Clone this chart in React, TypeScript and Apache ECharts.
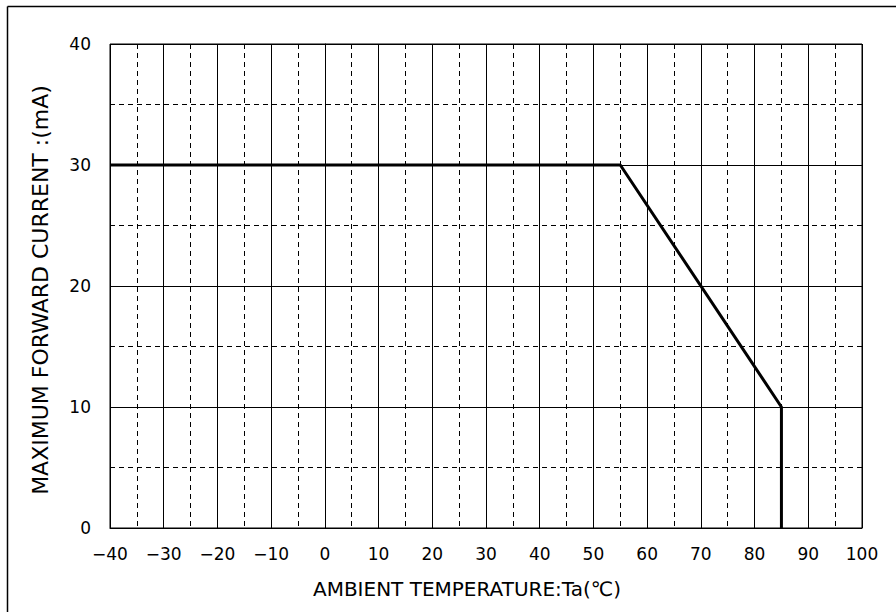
import React, { useEffect, useRef } from "react";
import * as echarts from "echarts";

const temperatures = [-40, 55, 85, 85];
const currents = [30, 30, 10, 0];
const xTicks = { min: -40, max: 100, interval: 10 };
const yTicks = { min: 0, max: 40, interval: 10 };
const xName = "AMBIENT TEMPERATURE:Ta(℃)";
const yName = "MAXIMUM FORWARD CURRENT :(mA)";

export default function App() {
  const ref = useRef<HTMLDivElement>(null);
  useEffect(() => {
    if (!ref.current) return;
    const chart = echarts.init(ref.current, null, { renderer: "svg" });
    const font = "DejaVu Sans, Liberation Sans, sans-serif";
    const solid = { color: "#000", width: 1, type: "solid" as const };
    const dashed = { color: "#000", width: 1, type: [5, 4] as any };
    chart.setOption({
      animation: false,
      backgroundColor: "#fff",
      textStyle: { fontFamily: font },
      grid: {
        left: 110,
        top: 44,
        right: 34,
        bottom: 84,
        show: true,
        borderColor: "#000",
        borderWidth: 1,
      },
      xAxis: {
        type: "value",
        min: xTicks.min,
        max: xTicks.max,
        interval: xTicks.interval,
        name: xName,
        nameLocation: "middle",
        nameGap: 51,
        nameTextStyle: { color: "#000", fontSize: 20, fontFamily: font, padding: [0, 38, 0, 0] },
        axisLine: { show: true, lineStyle: { color: "#000", width: 1 } },
        axisTick: { show: false },
        axisLabel: {
          color: "#000",
          fontSize: 17,
          margin: 17,
          fontFamily: font,
          formatter: (v: number) => String(v).replace("-", "−"),
        },
        splitLine: { show: true, lineStyle: solid },
        minorTick: { show: false, splitNumber: 2 },
        minorSplitLine: { show: true, lineStyle: dashed },
      },
      yAxis: {
        type: "value",
        min: yTicks.min,
        max: yTicks.max,
        interval: yTicks.interval,
        name: yName,
        nameLocation: "middle",
        nameGap: 59,
        nameTextStyle: { color: "#000", fontSize: 22, fontFamily: font, padding: [0, 8, 0, 0] },
        axisLine: { show: true, lineStyle: { color: "#000", width: 1 } },
        axisTick: { show: false },
        axisLabel: { color: "#000", fontSize: 17, margin: 19, fontFamily: font },
        splitLine: { show: true, lineStyle: solid },
        minorTick: { show: false, splitNumber: 2 },
        minorSplitLine: { show: true, lineStyle: dashed },
      },
      series: [
        {
          type: "line",
          data: temperatures.map((t, i) => [t, currents[i]]),
          symbol: "none",
          lineStyle: { color: "#000", width: 3 },
          z: 5,
        },
      ],
      graphic: [
        { type: "line", shape: { x1: 7.5, y1: 6.5, x2: 896, y2: 6.5 }, style: { stroke: "#000", lineWidth: 1.5 } },
        { type: "line", shape: { x1: 7.5, y1: 6.5, x2: 7.5, y2: 612 }, style: { stroke: "#000", lineWidth: 1.5 } },
      ],
    });
    return () => chart.dispose();
  }, []);
  return (
    <div
      ref={ref}
      style={{ position: "fixed", left: 0, top: 0, width: 896, height: 612 }}
    />
  );
}
